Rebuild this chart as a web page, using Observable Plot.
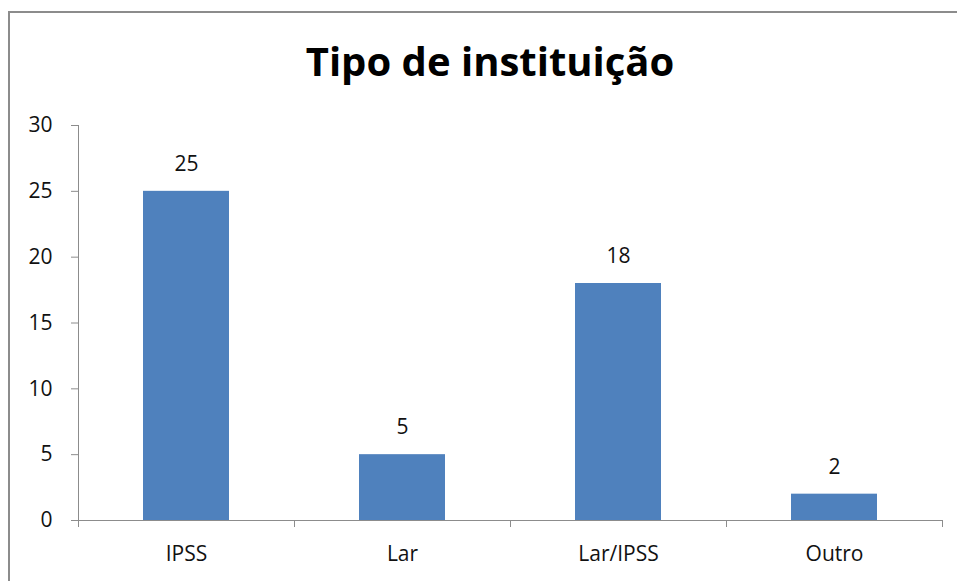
<!DOCTYPE html>
<html><head><meta charset="utf-8">
<script src="https://cdn.jsdelivr.net/npm/d3@7"></script>
<script src="https://cdn.jsdelivr.net/npm/@observablehq/plot@0.6"></script>
<style>
html,body{margin:0;padding:0;background:#fff;overflow:hidden;}
#wrap{position:relative;width:957px;height:581px;}
#frame{position:absolute;left:8px;top:11px;width:980px;height:620px;border:2px solid #8c8c8c;box-sizing:border-box;}
#title{position:absolute;left:0;top:33px;width:980px;text-align:center;font:bold 40px "Open Sans",sans-serif;color:#000;line-height:56px;}
#chart{position:absolute;left:0;top:0;}
</style></head>
<body><div id="wrap"><div id="frame"></div><div id="title">Tipo de instituição</div><div id="chart"></div></div>
<script>
const categories = ["IPSS", "Lar", "Lar/IPSS", "Outro"];
const values = [25, 5, 18, 2];
const yTicks = [0, 5, 10, 15, 20, 25, 30];

const data = categories.map((c, i) => ({c, v: values[i], i}));
const bounds = d3.range(categories.length + 1);
const gray = "#8c8c8c";
const font = "'Open Sans', sans-serif";

const chart = Plot.plot({
  width: 957, height: 581,
  marginLeft: 78, marginRight: 15, marginTop: 125, marginBottom: 61,
  style: {fontFamily: font, fontSize: "21px", color: "#111", background: "transparent"},
  x: {domain: [0, categories.length]},
  y: {domain: [0, 30]},
  marks: [
    Plot.rectY(data, {x1: "i", x2: d => d.i + 1, y: "v", fill: "#4F81BD", insetLeft: 65, insetRight: 65}),
    Plot.text(data, {x: d => d.i + 0.5, y: "v", text: d => String(d.v), dy: -27, fontSize: 21, fill: "#111"}),
    Plot.text(data, {x: d => d.i + 0.5, y: 0, text: "c", dy: 34, fontSize: 21, fill: "#111"}),
    Plot.axisY({ticks: yTicks, tickSize: 7, tickPadding: 19, stroke: gray, fill: "#111", label: null, fontSize: 21}),
    Plot.axisX({ticks: bounds, tickSize: 7, tickFormat: () => "", stroke: gray, label: null}),
    Plot.frame({anchor: "left", stroke: gray}),
    Plot.ruleY([0], {stroke: gray, insetLeft: -7})
  ]
});
document.getElementById("chart").appendChild(chart);
</script></body></html>
